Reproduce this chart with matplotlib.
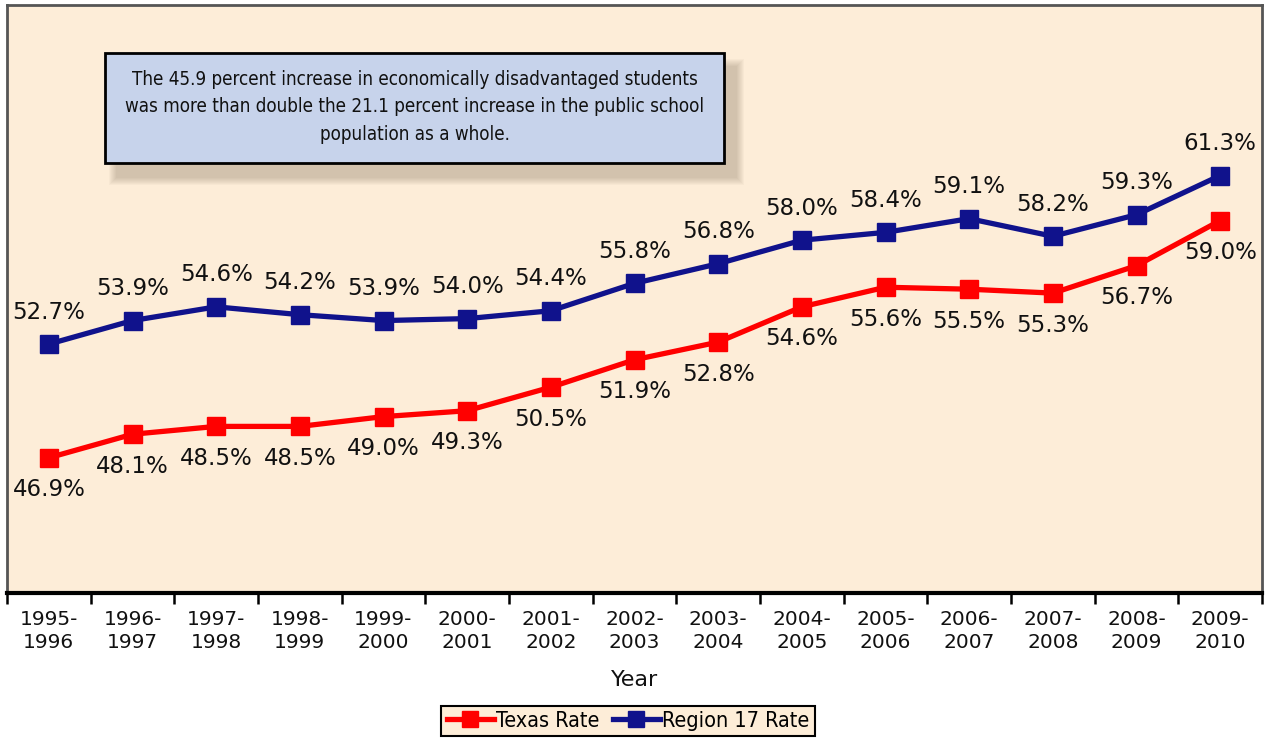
import matplotlib
matplotlib.use("Agg")
import matplotlib.pyplot as plt
from matplotlib.patches import Rectangle
from matplotlib.lines import Line2D

years = ["1995-\n1996", "1996-\n1997", "1997-\n1998", "1998-\n1999", "1999-\n2000",
         "2000-\n2001", "2001-\n2002", "2002-\n2003", "2003-\n2004", "2004-\n2005",
         "2005-\n2006", "2006-\n2007", "2007-\n2008", "2008-\n2009", "2009-\n2010"]
texas = [46.9, 48.1, 48.5, 48.5, 49.0, 49.3, 50.5, 51.9, 52.8, 54.6, 55.6, 55.5, 55.3, 56.7, 59.0]
region17 = [52.7, 53.9, 54.6, 54.2, 53.9, 54.0, 54.4, 55.8, 56.8, 58.0, 58.4, 59.1, 58.2, 59.3, 61.3]

W, H = 1266, 738
fig = plt.figure(figsize=(W / 100, H / 100), dpi=100)
fig.patch.set_facecolor("white")

def fx(px):
    return px / W

def fy(py):
    return 1 - py / H

ax = fig.add_axes([fx(7), fy(593), fx(1262) - fx(7), fy(5) - fy(593)])
bg = "#FDEDD8"
ax.set_facecolor(bg)
red = "#FF0000"
navy = "#10128C"
cond = {"family": "DejaVu Sans", "stretch": "condensed"}

x = list(range(len(years)))
ax.plot(x, texas, color=red, lw=3.8, marker="s", ms=13, mec=red, mfc=red, zorder=5)
ax.plot(x, region17, color=navy, lw=3.8, marker="s", ms=13, mec=navy, mfc=navy, zorder=5)

for xi, v in zip(x, region17):
    ax.annotate(f"{v:.1f}%", (xi, v), xytext=(0, 23), textcoords="offset points",
                ha="center", va="center", fontsize=16.5, color="#111111", family="DejaVu Sans")
for xi, v in zip(x, texas):
    ax.annotate(f"{v:.1f}%", (xi, v), xytext=(0, -23), textcoords="offset points",
                ha="center", va="center", fontsize=16.5, color="#111111", family="DejaVu Sans")

ax.set_xlim(-0.5, len(years) - 0.5)
ax.set_ylim(40, 70)
ax.set_yticks([])
ax.set_xticks([i - 0.5 for i in range(len(years) + 1)])
ax.set_xticklabels([])
ax.tick_params(axis="x", which="major", length=8, width=1.8, color="black", direction="out")
ax.set_xticks(x, minor=True)
ax.set_xticklabels(years, minor=True, fontsize=14.5, color="#111111", linespacing=1.3)
ax.tick_params(axis="x", which="minor", length=0, pad=12)

for s in ["top", "left", "right"]:
    ax.spines[s].set_color("#555555")
    ax.spines[s].set_linewidth(2)
ax.spines["bottom"].set_color("black")
ax.spines["bottom"].set_linewidth(3)

fig.text(fx(635), fy(680), "Year", ha="center", va="center", fontsize=16, color="#111111")

# annotation box with shadow
bx0, bx1, by0, by1 = 105, 724, 53, 163
for i in range(8):
    grow = 8 - i
    sh = Rectangle((fx(bx0 + 12 - grow), fy(by1 + 14 + grow)),
                   fx(bx1 - bx0 + 2 * grow), fy(by0) - fy(by1) + (2 * grow) / H,
                   transform=fig.transFigure, facecolor="#7a6a55", alpha=0.045,
                   edgecolor="none", zorder=10)
    fig.patches.append(sh)
box = Rectangle((fx(bx0), fy(by1)), fx(bx1 - bx0), fy(by0) - fy(by1),
                transform=fig.transFigure, facecolor="#C7D3EB", edgecolor="black",
                linewidth=2, zorder=11)
fig.patches.append(box)
note = ("The 45.9 percent increase in economically disadvantaged students\n"
        "was more than double the 21.1 percent increase in the public school\n"
        "population as a whole.")
fig.text(fx((bx0 + bx1) / 2), fy((by0 + by1) / 2 - 1), note, ha="center", va="center",
         fontsize=13.5, color="#111111", linespacing=1.55, zorder=12, **cond)

# legend
handles = [Line2D([], [], color=red, lw=3.8, marker="s", ms=11),
           Line2D([], [], color=navy, lw=3.8, marker="s", ms=11)]
leg = fig.legend(handles, ["Texas Rate", "Region 17 Rate"], loc="center",
                 bbox_to_anchor=(fx(628), fy(721)), ncol=2, frameon=True,
                 prop={"family": "DejaVu Sans", "stretch": "condensed", "size": 15.5},
                 handlelength=2.2, handletextpad=0.1, columnspacing=0.6,
                 borderpad=0.25, fancybox=False)
leg.get_frame().set_facecolor(bg)
leg.get_frame().set_edgecolor("black")
leg.get_frame().set_linewidth(1.5)
leg.get_frame().set_alpha(1)

fig.savefig("out.png", dpi=100, facecolor="white")
